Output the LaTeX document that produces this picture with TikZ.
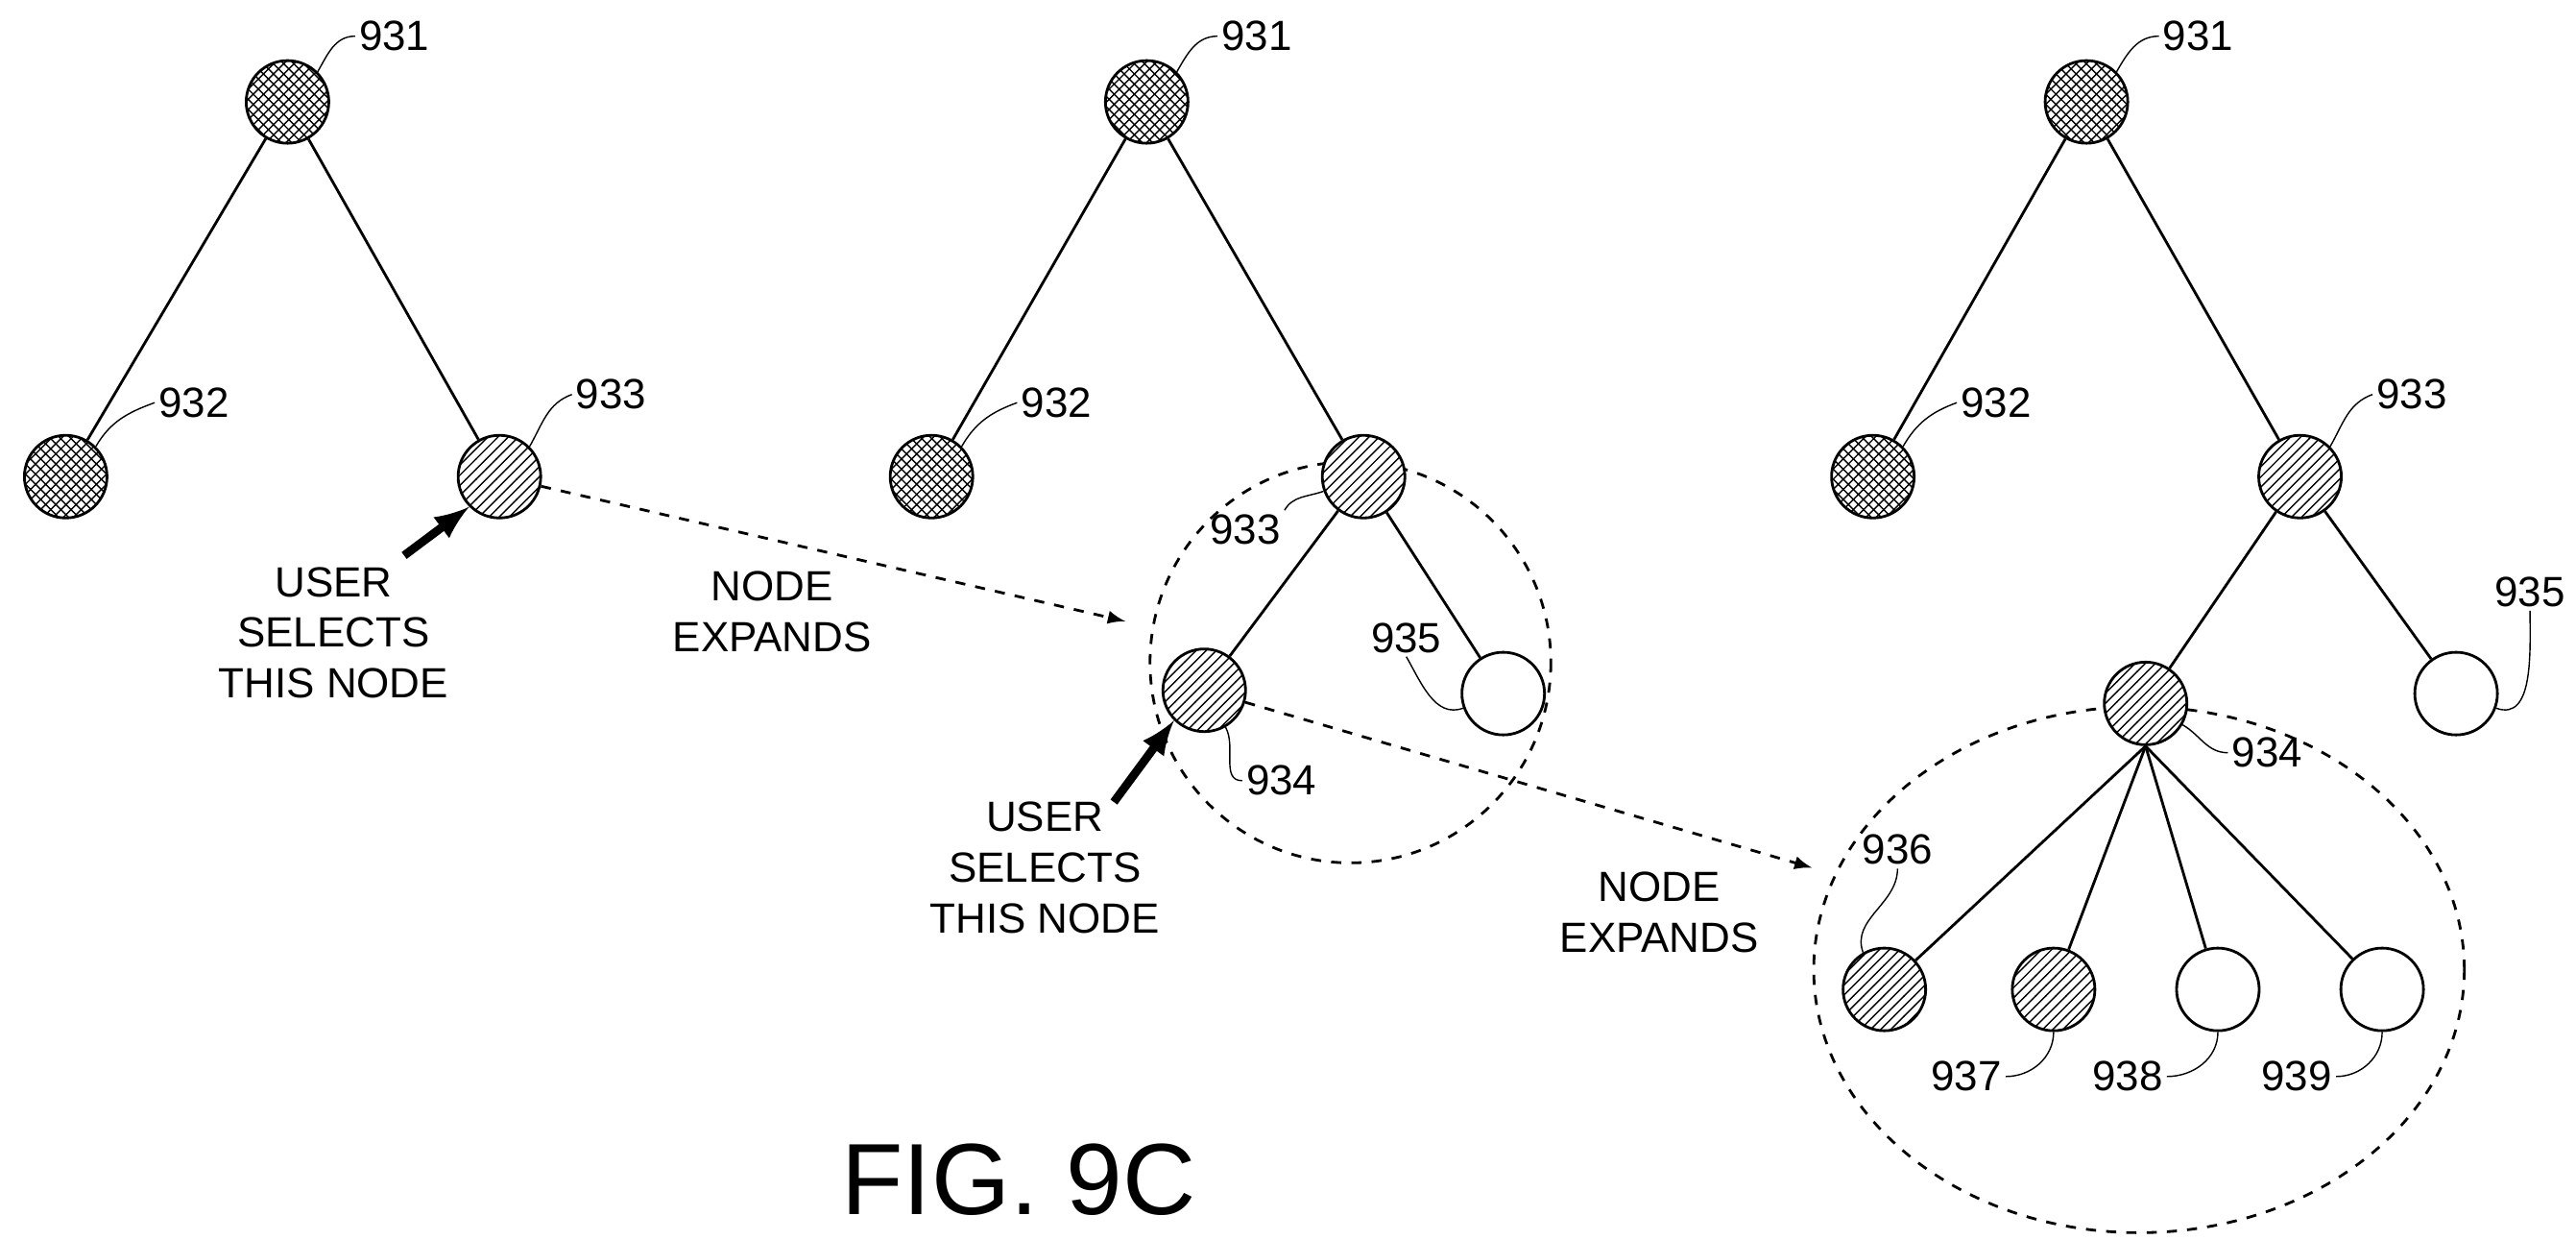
\documentclass[tikz,border=0pt]{standalone}
\usepackage{fontspec}
\setmainfont{Liberation Sans}
\usetikzlibrary{patterns}
\begin{document}
\begin{tikzpicture}[x=0.01711cm,y=-0.01711cm,
  every node/.style={font=\fontsize{12.5}{15}\selectfont},
  cross/.style={circle,draw,thick,minimum size=0.86cm,inner sep=0pt,preaction={fill=white},pattern=crosshatch},
  hatch/.style={circle,draw,thick,minimum size=0.86cm,inner sep=0pt,preaction={fill=white},pattern=north east lines},
  plain/.style={circle,draw,thick,minimum size=0.86cm,inner sep=0pt,fill=white},
  lbl/.style={inner sep=1pt},
  lead/.style={thin},
  expand/.style={dashed,thick,->,>=latex},
  select/.style={line width=2.5pt,->,>=latex}]
\useasboundingbox (0,0) rectangle (1568,754);
% dashed groups
\draw [dashed,thick] (822,403) circle (122);
\draw [dashed,thick] (1302,590) ellipse (198 and 160);
% first tree
\node[cross] (a931) at (175,62) {};
\node[cross] (a932) at (40,290) {};
\node[hatch] (a933) at (304,290) {};
\draw [thick] (a931) -- (a932);
\draw [thick] (a931) -- (a933);
\node[lbl] (la931) at (240,22) {931};
\node[lbl] (la932) at (118,245) {932};
\node[lbl] (la933) at (372,240) {933};
\draw [lead] (a931.45) to[out=60,in=180] (la931.west);
\draw [lead] (a932.45) to[out=60,in=200] (la932.west);
\draw [lead] (a933.45) to[out=60,in=200] (la933.west);
\node[align=center] (sel1) at (203,385) {USER\\SELECTS\\THIS NODE};
\draw [select] (246,338) -- (a933.225);
% second tree
\node[cross] (b931) at (698,62) {};
\node[cross] (b932) at (567,290) {};
\node[hatch] (b933) at (830,290) {};
\node[hatch] (b934) at (733,420) {};
\node[plain] (b935) at (915,422) {};
\draw [thick] (b931) -- (b932);
\draw [thick] (b931) -- (b933);
\draw [thick] (b933) -- (b934);
\draw [thick] (b933) -- (b935);
\node[lbl] (lb931) at (765,22) {931};
\node[lbl] (lb932) at (643,245) {932};
\node[lbl] (lb933) at (758,322) {933};
\node[lbl] (lb934) at (780,475) {934};
\node[lbl] (lb935) at (856,388) {935};
\draw [lead] (b931.45) to[out=60,in=180] (lb931.west);
\draw [lead] (b932.45) to[out=60,in=200] (lb932.west);
\draw [lead] (b933.200) to[out=200,in=60] (lb933.north east);
\draw [lead] (b934.-60) to[out=-60,in=180] (lb934.west);
\draw [lead] (b935.200) to[out=200,in=-60] (lb935.south);
\node[align=center] (ex1) at (470,372) {NODE\\EXPANDS};
\draw [expand] (a933) -- (685,378);
\node[align=center] (sel2) at (636,528) {USER\\SELECTS\\THIS NODE};
\draw [select] (678,488) -- (b934.225);
% third tree
\node[cross] (c931) at (1270,62) {};
\node[cross] (c932) at (1140,290) {};
\node[hatch] (c933) at (1400,290) {};
\node[hatch] (c934) at (1306,428) {};
\node[plain] (c935) at (1495,422) {};
\node[hatch] (c936) at (1147,602) {};
\node[hatch] (c937) at (1250,602) {};
\node[plain] (c938) at (1350,602) {};
\node[plain] (c939) at (1450,602) {};
\draw [thick] (c931) -- (c932);
\draw [thick] (c931) -- (c933);
\draw [thick] (c933) -- (c934);
\draw [thick] (c933) -- (c935);
\foreach \k in {936,937,938,939} \draw [thick] (c934.south) -- (c\k);
\node[lbl] (lc931) at (1338,22) {931};
\node[lbl] (lc932) at (1215,245) {932};
\node[lbl] (lc933) at (1468,240) {933};
\node[lbl] (lc934) at (1380,458) {934};
\node[lbl] (lc935) at (1540,360) {935};
\node[lbl] (lc936) at (1155,517) {936};
\node[lbl] (lc937) at (1197,655) {937};
\node[lbl] (lc938) at (1295,655) {938};
\node[lbl] (lc939) at (1398,655) {939};
\draw [lead] (c931.45) to[out=60,in=180] (lc931.west);
\draw [lead] (c932.45) to[out=60,in=200] (lc932.west);
\draw [lead] (c933.45) to[out=60,in=200] (lc933.west);
\draw [lead] (c934.-30) to[out=-30,in=180] (lc934.west);
\draw [lead] (c935.-20) to[out=-20,in=-90] (lc935.south);
\draw [lead] (c936.120) to[out=110,in=-90] (lc936.south);
\draw [lead] (c937.-90) to[out=-90,in=0] (lc937.east);
\draw [lead] (c938.-90) to[out=-90,in=0] (lc938.east);
\draw [lead] (c939.-90) to[out=-90,in=0] (lc939.east);
\node[align=center] (ex2) at (1010,555) {NODE\\EXPANDS};
\draw [expand] (b934) -- (1103,528);
\node[font=\fontsize{30}{34}\selectfont] (fig) at (620,718) {FIG. 9C};
\end{tikzpicture}
\end{document}
